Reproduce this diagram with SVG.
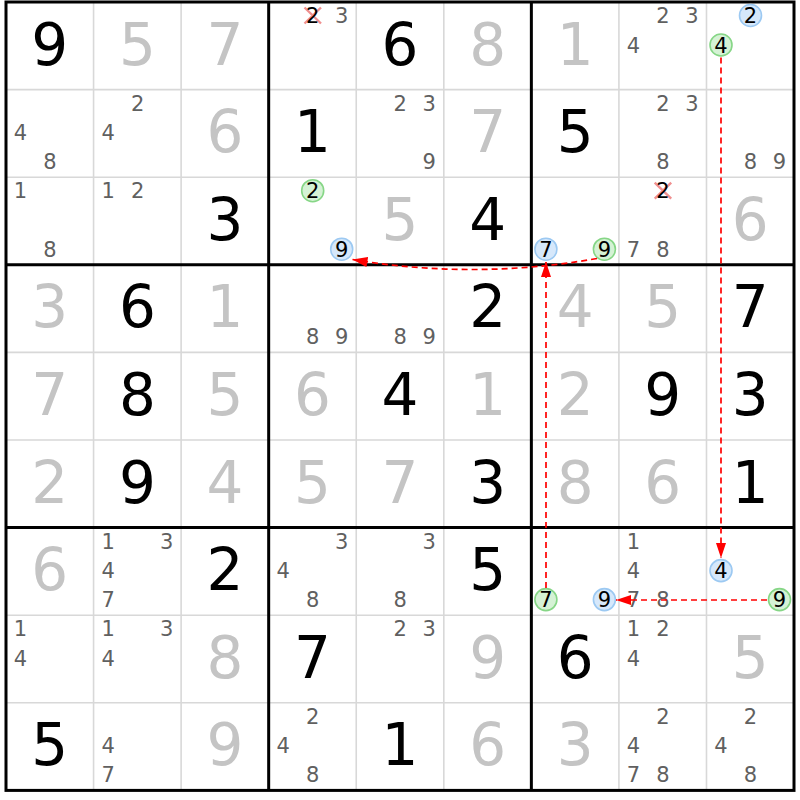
<svg xmlns="http://www.w3.org/2000/svg" width="800" height="800" viewBox="0 0 800 800">
<style>
text{font-family:"DejaVu Sans","Liberation Sans",sans-serif;text-anchor:middle}
.g{font-size:58px;fill:#000}
.s{font-size:58px;fill:#c4c4c4}
.c{font-size:21px;fill:#606060}
.k{font-size:21px;fill:#000}
.thin{stroke:#d8d8d8;stroke-width:1.6}
.thick{stroke:#000;stroke-width:3}
.gc{fill:#d5f2d5;stroke:#86d686;stroke-width:1.6}
.bc{fill:#d6e8fb;stroke:#9cc9f2;stroke-width:1.6}
.x{stroke:#f09090;stroke-width:2.4}
.arr{fill:none;stroke:#f00;stroke-width:1.7;stroke-dasharray:6 4;marker-end:url(#ah)}
</style>
<defs>
<marker id="ah" viewBox="0 0 15 10" refX="15" refY="5" markerWidth="15" markerHeight="10" markerUnits="userSpaceOnUse" orient="auto"><path d="M0,0 L15,5 L0,10 z" fill="#f00"/></marker>
</defs>
<rect width="800" height="800" fill="#fff"/>
<g id="grid">
<path class="thin" d="M93.56 2V790.4M181.12 2V790.4M356.24 2V790.4M443.8 2V790.4M618.92 2V790.4M706.48 2V790.4M6 89.6H794M6 177.2H794M6 352.4H794M6 440H794M6 615.2H794M6 702.8H794"/>
<path class="thick" d="M268.68 2V790.4M531.36 2V790.4M6 264.8H794M6 527.6H794"/>
<rect x="6" y="2" width="788" height="788.4" fill="none" stroke="#000" stroke-width="3"/>
</g>
<g id="r0">
<g id="r0c0"><text class="g" x="49.8" y="64.5">9</text></g>
<g id="r0c1"><text class="s" x="137.4" y="64.5">5</text></g>
<g id="r0c2"><text class="s" x="224.9" y="64.5">7</text></g>
<g id="r0c3"><path class="x" d="M304.5 7.5L321 23.5M321 7.5L304.5 23.5"/><text class="k" x="312.7" y="23.1">2</text><text class="c" x="341.7" y="23.1">3</text></g>
<g id="r0c4"><text class="g" x="400" y="64.5">6</text></g>
<g id="r0c5"><text class="s" x="487.6" y="64.5">8</text></g>
<g id="r0c6"><text class="s" x="575.2" y="64.5">1</text></g>
<g id="r0c7"><text class="c" x="662.9" y="23.1">2</text><text class="c" x="691.9" y="23.1">3</text><text class="c" x="633.4" y="52.6">4</text></g>
<g id="r0c8"><circle class="bc" cx="750.5" cy="15.5" r="11"/><text class="k" x="750.5" y="23.1">2</text><circle class="gc" cx="721" cy="45" r="11"/><text class="k" x="721" y="52.6">4</text></g>
</g>
<g id="r1">
<g id="r1c0"><text class="c" x="20.5" y="140.2">4</text><text class="c" x="50" y="169.2">8</text></g>
<g id="r1c1"><text class="c" x="137.6" y="110.7">2</text><text class="c" x="108.1" y="140.2">4</text></g>
<g id="r1c2"><text class="s" x="224.9" y="152.1">6</text></g>
<g id="r1c3"><text class="g" x="312.5" y="152.1">1</text></g>
<g id="r1c4"><text class="c" x="400.2" y="110.7">2</text><text class="c" x="429.2" y="110.7">3</text><text class="c" x="429.2" y="169.2">9</text></g>
<g id="r1c5"><text class="s" x="487.6" y="152.1">7</text></g>
<g id="r1c6"><text class="g" x="575.2" y="152.1">5</text></g>
<g id="r1c7"><text class="c" x="662.9" y="110.7">2</text><text class="c" x="691.9" y="110.7">3</text><text class="c" x="662.9" y="169.2">8</text></g>
<g id="r1c8"><text class="c" x="750.5" y="169.2">8</text><text class="c" x="779.5" y="169.2">9</text></g>
</g>
<g id="r2">
<g id="r2c0"><text class="c" x="20.5" y="198.3">1</text><text class="c" x="50" y="256.8">8</text></g>
<g id="r2c1"><text class="c" x="108.1" y="198.3">1</text><text class="c" x="137.6" y="198.3">2</text></g>
<g id="r2c2"><text class="g" x="224.9" y="239.7">3</text></g>
<g id="r2c3"><circle class="gc" cx="312.7" cy="190.7" r="11"/><text class="k" x="312.7" y="198.3">2</text><circle class="bc" cx="341.7" cy="249.2" r="11"/><text class="k" x="341.7" y="256.8">9</text></g>
<g id="r2c4"><text class="s" x="400" y="239.7">5</text></g>
<g id="r2c5"><text class="g" x="487.6" y="239.7">4</text></g>
<g id="r2c6"><circle class="bc" cx="545.9" cy="249.2" r="11"/><text class="k" x="545.9" y="256.8">7</text><circle class="gc" cx="604.4" cy="249.2" r="11"/><text class="k" x="604.4" y="256.8">9</text></g>
<g id="r2c7"><path class="x" d="M654.7 182.7L671.2 198.7M671.2 182.7L654.7 198.7"/><text class="k" x="662.9" y="198.3">2</text><text class="c" x="633.4" y="256.8">7</text><text class="c" x="662.9" y="256.8">8</text></g>
<g id="r2c8"><text class="s" x="750.3" y="239.7">6</text></g>
</g>
<g id="r3">
<g id="r3c0"><text class="s" x="49.8" y="327.3">3</text></g>
<g id="r3c1"><text class="g" x="137.4" y="327.3">6</text></g>
<g id="r3c2"><text class="s" x="224.9" y="327.3">1</text></g>
<g id="r3c3"><text class="c" x="312.7" y="344.4">8</text><text class="c" x="341.7" y="344.4">9</text></g>
<g id="r3c4"><text class="c" x="400.2" y="344.4">8</text><text class="c" x="429.2" y="344.4">9</text></g>
<g id="r3c5"><text class="g" x="487.6" y="327.3">2</text></g>
<g id="r3c6"><text class="s" x="575.2" y="327.3">4</text></g>
<g id="r3c7"><text class="s" x="662.7" y="327.3">5</text></g>
<g id="r3c8"><text class="g" x="750.3" y="327.3">7</text></g>
</g>
<g id="r4">
<g id="r4c0"><text class="s" x="49.8" y="414.9">7</text></g>
<g id="r4c1"><text class="g" x="137.4" y="414.9">8</text></g>
<g id="r4c2"><text class="s" x="224.9" y="414.9">5</text></g>
<g id="r4c3"><text class="s" x="312.5" y="414.9">6</text></g>
<g id="r4c4"><text class="g" x="400" y="414.9">4</text></g>
<g id="r4c5"><text class="s" x="487.6" y="414.9">1</text></g>
<g id="r4c6"><text class="s" x="575.2" y="414.9">2</text></g>
<g id="r4c7"><text class="g" x="662.7" y="414.9">9</text></g>
<g id="r4c8"><text class="g" x="750.3" y="414.9">3</text></g>
</g>
<g id="r5">
<g id="r5c0"><text class="s" x="49.8" y="502.5">2</text></g>
<g id="r5c1"><text class="g" x="137.4" y="502.5">9</text></g>
<g id="r5c2"><text class="s" x="224.9" y="502.5">4</text></g>
<g id="r5c3"><text class="s" x="312.5" y="502.5">5</text></g>
<g id="r5c4"><text class="s" x="400" y="502.5">7</text></g>
<g id="r5c5"><text class="g" x="487.6" y="502.5">3</text></g>
<g id="r5c6"><text class="s" x="575.2" y="502.5">8</text></g>
<g id="r5c7"><text class="s" x="662.7" y="502.5">6</text></g>
<g id="r5c8"><text class="g" x="750.3" y="502.5">1</text></g>
</g>
<g id="r6">
<g id="r6c0"><text class="s" x="49.8" y="590.1">6</text></g>
<g id="r6c1"><text class="c" x="108.1" y="548.7">1</text><text class="c" x="166.6" y="548.7">3</text><text class="c" x="108.1" y="578.2">4</text><text class="c" x="108.1" y="607.2">7</text></g>
<g id="r6c2"><text class="g" x="224.9" y="590.1">2</text></g>
<g id="r6c3"><text class="c" x="341.7" y="548.7">3</text><text class="c" x="283.2" y="578.2">4</text><text class="c" x="312.7" y="607.2">8</text></g>
<g id="r6c4"><text class="c" x="429.2" y="548.7">3</text><text class="c" x="400.2" y="607.2">8</text></g>
<g id="r6c5"><text class="g" x="487.6" y="590.1">5</text></g>
<g id="r6c6"><circle class="gc" cx="545.9" cy="599.6" r="11"/><text class="k" x="545.9" y="607.2">7</text><circle class="bc" cx="604.4" cy="599.6" r="11"/><text class="k" x="604.4" y="607.2">9</text></g>
<g id="r6c7"><text class="c" x="633.4" y="548.7">1</text><text class="c" x="633.4" y="578.2">4</text><text class="c" x="633.4" y="607.2">7</text><text class="c" x="662.9" y="607.2">8</text></g>
<g id="r6c8"><circle class="bc" cx="721" cy="570.6" r="11"/><text class="k" x="721" y="578.2">4</text><circle class="gc" cx="779.5" cy="599.6" r="11"/><text class="k" x="779.5" y="607.2">9</text></g>
</g>
<g id="r7">
<g id="r7c0"><text class="c" x="20.5" y="636.3">1</text><text class="c" x="20.5" y="665.8">4</text></g>
<g id="r7c1"><text class="c" x="108.1" y="636.3">1</text><text class="c" x="166.6" y="636.3">3</text><text class="c" x="108.1" y="665.8">4</text></g>
<g id="r7c2"><text class="s" x="224.9" y="677.7">8</text></g>
<g id="r7c3"><text class="g" x="312.5" y="677.7">7</text></g>
<g id="r7c4"><text class="c" x="400.2" y="636.3">2</text><text class="c" x="429.2" y="636.3">3</text></g>
<g id="r7c5"><text class="s" x="487.6" y="677.7">9</text></g>
<g id="r7c6"><text class="g" x="575.2" y="677.7">6</text></g>
<g id="r7c7"><text class="c" x="633.4" y="636.3">1</text><text class="c" x="662.9" y="636.3">2</text><text class="c" x="633.4" y="665.8">4</text></g>
<g id="r7c8"><text class="s" x="750.3" y="677.7">5</text></g>
</g>
<g id="r8">
<g id="r8c0"><text class="g" x="49.8" y="765.3">5</text></g>
<g id="r8c1"><text class="c" x="108.1" y="753.4">4</text><text class="c" x="108.1" y="782.4">7</text></g>
<g id="r8c2"><text class="s" x="224.9" y="765.3">9</text></g>
<g id="r8c3"><text class="c" x="312.7" y="723.9">2</text><text class="c" x="283.2" y="753.4">4</text><text class="c" x="312.7" y="782.4">8</text></g>
<g id="r8c4"><text class="g" x="400" y="765.3">1</text></g>
<g id="r8c5"><text class="s" x="487.6" y="765.3">6</text></g>
<g id="r8c6"><text class="s" x="575.2" y="765.3">3</text></g>
<g id="r8c7"><text class="c" x="662.9" y="723.9">2</text><text class="c" x="633.4" y="753.4">4</text><text class="c" x="633.4" y="782.4">7</text><text class="c" x="662.9" y="782.4">8</text></g>
<g id="r8c8"><text class="c" x="750.5" y="723.9">2</text><text class="c" x="721" y="753.4">4</text><text class="c" x="750.5" y="782.4">8</text></g>
</g>
<g id="connectors">
<path class="arr" d="M721 57.5V558"/>
<path class="arr" d="M767 600H616"/>
<path class="arr" d="M546 588V262"/>
<path class="arr" d="M597 258.5Q474 280 352.5 259.5"/>
</g>
</svg>
